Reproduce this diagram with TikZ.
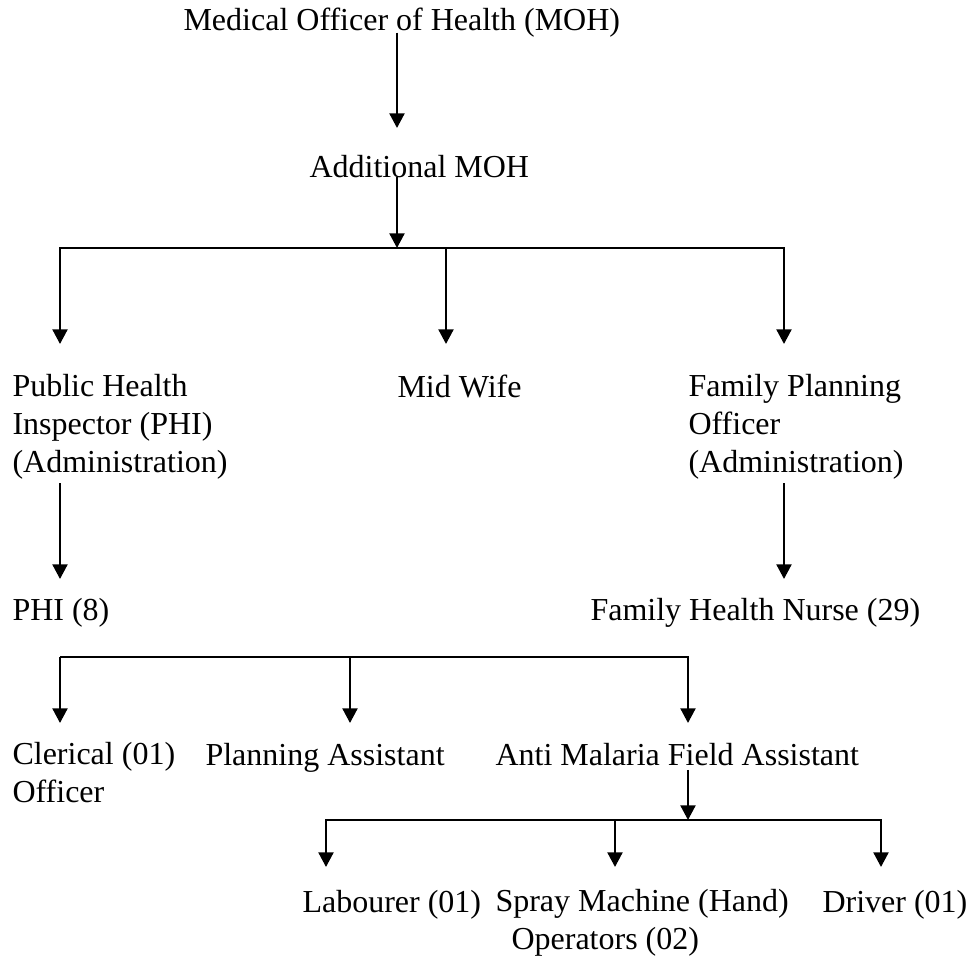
\documentclass[tikz,border=0pt]{standalone}
\usepackage{fontspec}
\setmainfont{Liberation Serif}
\usetikzlibrary{arrows.meta}

\tikzset{
	post/.style={anchor=base west, inner sep=0pt, align=left, font=\fontsize{12}{14.1}\selectfont},
	link/.style={draw, line width=0.9pt, -{Triangle[width=5.6pt,length=5.5pt]}}
}

\begin{document}
\begin{tikzpicture}[x=0.375pt,y=-0.375pt]
			\useasboundingbox (0,0) rectangle (969,958);
			\node[post] (moh) at (183,30) {Medical Officer of Health (MOH)};
			\node[post] (amoh) at (309,177) {Additional MOH};
			\node[post] (phia) at (12,472) {Public Health\\Inspector (PHI)\\(Administration)};
			\node[post] (mid) at (397,397) {Mid Wife};
			\node[post] (fpo) at (688,472) {Family Planning\\Officer\\(Administration)};
			\node[post] (phi) at (12,620) {PHI (8)};
			\node[post] (fhn) at (590,620) {Family Health Nurse (29)};
			\node[post] (cler) at (12,802) {Clerical (01)\\Officer};
			\node[post] (plan) at (205,765) {Planning Assistant};
			\node[post] (amfa) at (495,765) {Anti Malaria Field Assistant};
			\node[post] (lab) at (302,912) {Labourer (01)};
			\node[post] (spray) at (495,949) {Spray Machine (Hand)\\\hspace*{6pt}Operators (02)};
			\node[post] (drv) at (822,912) {Driver (01)};

			\coordinate (t-amoh) at (397,128);
			\coordinate (bar1) at (397,248);
			\coordinate (t-phia) at (60,344);
			\coordinate (t-mid) at (446,344);
			\coordinate (t-fpo) at (784,344);
			\coordinate (t-phi) at (60,579);
			\coordinate (t-fhn) at (784,579);
			\coordinate (bar2) at (60,657);
			\coordinate (t-cler) at (60,723);
			\coordinate (t-plan) at (350,723);
			\coordinate (t-amfa) at (688,723);
			\coordinate (bar3) at (688,820);
			\coordinate (t-lab) at (326,867);
			\coordinate (t-spray) at (615,867);
			\coordinate (t-drv) at (881,867);

			\draw[link] ([yshift=-1pt]moh.base -| t-amoh) -- (t-amoh);
			\draw[link] (amoh.base -| bar1) -- (bar1);
			\draw[link] (bar1) -| (t-phia);
			\draw[link] (bar1) -| (t-mid);
			\draw[link] (bar1) -| (t-fpo);
			\draw[link] ([yshift=-1.5pt]phia.south -| t-phi) -- (t-phi);
			\draw[link] ([yshift=-1.5pt]fpo.south -| t-fhn) -- (t-fhn);
			\draw[link] (bar2) -- (t-cler);
			\draw[link] (bar2) -| (t-plan);
			\draw[link] (bar2) -| (t-amfa);
			\draw[link] ([yshift=-1.5pt]amfa.south -| bar3) -- (bar3);
			\draw[link] (bar3) -| (t-lab);
			\draw[link] (bar3) -| (t-spray);
			\draw[link] (bar3) -| (t-drv);
\end{tikzpicture}
\end{document}
